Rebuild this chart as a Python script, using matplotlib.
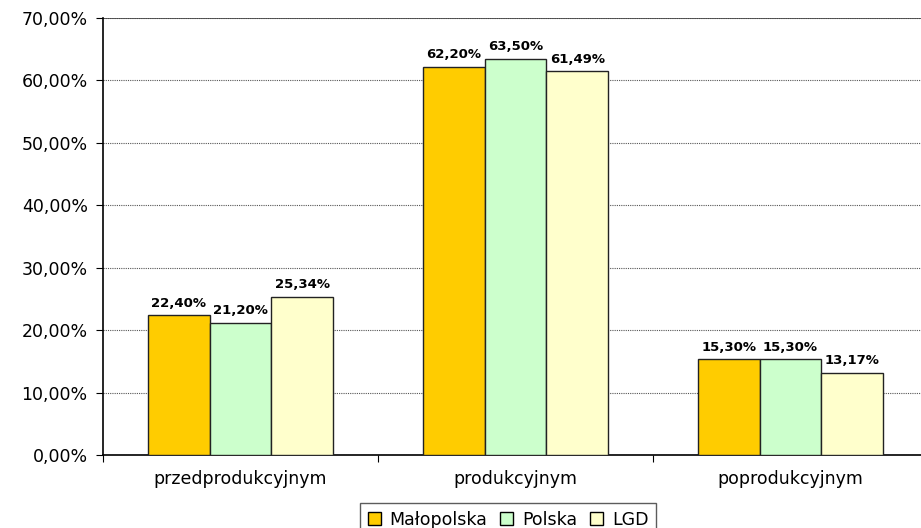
import matplotlib
matplotlib.use("Agg")
import matplotlib.pyplot as plt
import numpy as np

plt.rcParams['font.family'] = ['DejaVu Sans']

# --- data ---
categories = ['przedprodukcyjnym', 'produkcyjnym', 'poprodukcyjnym']
series_names = ['Małopolska', 'Polska', 'LGD']
malopolska = [22.40, 62.20, 15.30]
polska = [21.20, 63.50, 15.30]
lgd = [25.34, 61.49, 13.17]
y_ticks = [0, 10, 20, 30, 40, 50, 60, 70]

colors = ['#FFCC00', '#CCFFCC', '#FFFFCC']
values = [malopolska, polska, lgd]


def pl_pct(v):
    return f"{v:.2f}%".replace('.', ',')


fig = plt.figure(figsize=(9.21, 5.28), dpi=100)
# plot area runs past the right edge of the picture, as in the reference
ax = fig.add_axes([103 / 921, 73 / 528, 825 / 921, 437 / 528])

x = np.arange(len(categories))
bw = 0.2245
for i, (name, vals) in enumerate(zip(series_names, values)):
    pos = x + (i - 1) * bw
    bars = ax.bar(pos, vals, width=bw, color=colors[i], edgecolor='#222222',
                  linewidth=1.0, label=name, zorder=3)
    for b, v in zip(bars, vals):
        ax.annotate(pl_pct(v), (b.get_x() + b.get_width() / 2, v),
                    xytext=(0, 4), textcoords='offset points',
                    ha='center', va='bottom', fontsize=9.5, fontweight='bold')

ax.set_xlim(-0.5, 2.5)
ax.set_ylim(0, 70)
ax.set_yticks(y_ticks)
ax.set_yticklabels([pl_pct(t) for t in y_ticks], fontsize=12.5)

# category labels between tick marks placed at the boundaries
ax.set_xticks([-0.5, 0.5, 1.5, 2.5])
ax.set_xticklabels([])
ax.set_xticks(x, minor=True)
ax.set_xticklabels(categories, minor=True, fontsize=12.5)
ax.tick_params(axis='x', which='minor', length=0, pad=11)
ax.tick_params(axis='x', which='major', length=5, direction='out', color='black')
ax.tick_params(axis='y', length=5, direction='out', color='black', pad=6)

ax.grid(axis='y', linestyle=(0, (1, 1)), color='#555555', linewidth=0.8, zorder=0)
ax.axhline(70, color='#444444', linewidth=1.2, zorder=1)
ax.set_axisbelow(True)
for s in ['top', 'right']:
    ax.spines[s].set_visible(False)
ax.spines['left'].set_color('black')
ax.spines['bottom'].set_color('black')
ax.spines['left'].set_linewidth(1.2)
ax.spines['bottom'].set_linewidth(1.2)

leg = fig.legend(loc='upper center', bbox_to_anchor=(508 / 921, 25 / 528), ncol=3,
                 fontsize=12.5, frameon=True, fancybox=False, edgecolor='#333333',
                 handlelength=0.75, handleheight=0.75, handletextpad=0.5,
                 columnspacing=0.75, borderpad=0.45, borderaxespad=0)
leg.get_frame().set_linewidth(1.0)
for h in leg.legend_handles:
    h.set_edgecolor('black')

fig.savefig('out.png', dpi=100)
